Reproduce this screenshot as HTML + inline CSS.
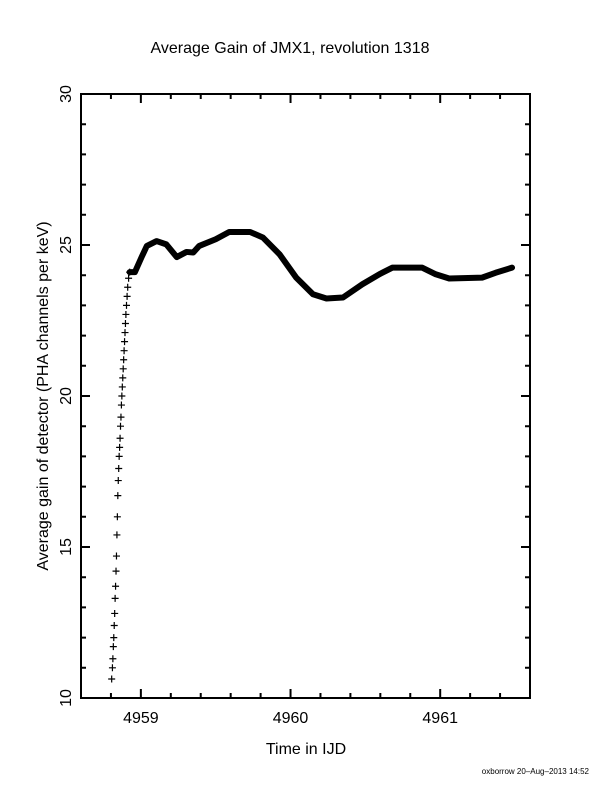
<!DOCTYPE html>
<html><head><meta charset="utf-8"><style>
body{margin:0;background:#fff}
svg{display:block}
text{font-family:"Liberation Sans",sans-serif;fill:#000}
</style></head><body>
<svg id="chart" width="612" height="792" viewBox="0 0 612 792" xmlns="http://www.w3.org/2000/svg">
<text x="290" y="53" font-size="16" text-anchor="middle">Average Gain of JMX1, revolution 1318</text>
<text transform="translate(48,396) rotate(-90)" font-size="16" text-anchor="middle">Average gain of detector (PHA channels per keV)</text>
<text x="306" y="754" font-size="16" text-anchor="middle">Time in IJD</text>
<text x="589" y="774" font-size="8" text-anchor="end">oxborrow 20–Aug–2013 14:52</text>
<g id="axes"></g>
<g id="marks"></g>
</svg>
<script>
const sparseT=[4958.805,4958.810,4958.813,4958.816,4958.819,4958.822,4958.825,4958.828,4958.831,4958.834,4958.837,4958.840,4958.843,4958.846,4958.849,4958.852,4958.855,4958.858,4958.861,4958.864,4958.867,4958.870,4958.873,4958.876,4958.879,4958.882,4958.885,4958.888,4958.891,4958.894,4958.897,4958.900,4958.904,4958.908,4958.912,4958.918,4958.925];
const sparseV=[10.63,11.0,11.3,11.7,12.0,12.4,12.8,13.3,13.7,14.2,14.7,15.4,16.0,16.7,17.2,17.6,18.0,18.3,18.6,19.0,19.3,19.7,20.0,20.3,20.6,20.9,21.2,21.5,21.8,22.1,22.4,22.7,23.0,23.3,23.6,23.9,24.1];
const denseT=[4958.96,4959.005,4959.04,4959.105,4959.17,4959.24,4959.305,4959.35,4959.39,4959.5,4959.59,4959.73,4959.815,4959.927,4960.038,4960.15,4960.24,4960.35,4960.48,4960.593,4960.68,4960.88,4960.97,4961.06,4961.28,4961.37,4961.48];
const denseV=[24.1,24.6,24.97,25.13,25.02,24.6,24.77,24.75,24.97,25.19,25.43,25.43,25.25,24.69,23.92,23.37,23.23,23.26,23.7,24.03,24.25,24.25,24.03,23.89,23.92,24.08,24.25];
const xTicks=[4959,4960,4961];
const yTicks=[10,15,20,25,30];
const X0=81,X1=530,Y0=698,Y1=94,T0=4958.6,T1=4961.6,V0=10,V1=30;
const xs=t=>X0+(t-T0)/(T1-T0)*(X1-X0);
const ys=v=>Y0-(v-V0)/(V1-V0)*(Y0-Y1);
const NS="http://www.w3.org/2000/svg";
function mk(tag,attrs,parent){const e=document.createElementNS(NS,tag);for(const k in attrs)e.setAttribute(k,attrs[k]);parent.appendChild(e);return e;}
const ax=document.getElementById('axes'),mg=document.getElementById('marks');
const frame=mk('rect',{x:X0,y:Y1,width:X1-X0,height:Y0-Y1,fill:'none',stroke:'#000','stroke-width':2},ax);


let d='';
for(let t=4958.6;t<=4961.61;t+=0.2){const x=xs(t);const maj=Math.abs(t-Math.round(t))<0.01;const L=maj?9:5;d+=`M${x},${Y0}v${-L}M${x},${Y1}v${L}`;}
for(let v=10;v<=30;v++){const y=ys(v);const L=v%5===0?9:5;d+=`M${X0},${y}h${L}M${X1},${y}h${-L}`;}
const tk=mk('path',{d:d,stroke:'#000','stroke-width':2,fill:'none'},ax);


xTicks.forEach(t=>{const e=mk('text',{x:xs(t),y:723,'font-size':16,'text-anchor':'middle'},ax);e.textContent=t;

});
yTicks.forEach(v=>{const e=mk('text',{transform:`translate(71,${ys(v)}) rotate(-90)`,'font-size':16,'text-anchor':'middle'},ax);e.textContent=v;

});
let pd='';
sparseT.forEach((t,i)=>{const x=xs(t),y=ys(sparseV[i]);pd+=`M${x-3.5},${y}h7M${x},${y-3.5}v7`;});
const pl=mk('path',{d:pd,stroke:'#000','stroke-width':1.2,fill:'none'},mg);


const lastT=sparseT[sparseT.length-1],lastV=sparseV[sparseV.length-1];
let ld=`M${xs(lastT)},${ys(lastV)}`;
denseT.forEach((t,i)=>{ld+=`L${xs(t)},${ys(denseV[i])}`;});
const ln=mk('path',{d:ld,stroke:'#000','stroke-width':6,fill:'none','stroke-linejoin':'round','stroke-linecap':'round'},mg);


</script>
</body></html>
